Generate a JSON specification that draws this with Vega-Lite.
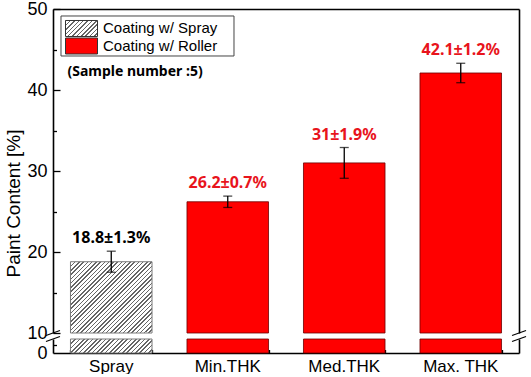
{
  "$schema": "https://vega.github.io/schema/vega-lite/v6.json",
  "padding": {"left": 4, "top": 0, "right": 0, "bottom": 0},
  "data": {"values": [
    {"cat": "Spray", "coating": "Coating w/ Spray", "value": 18.8, "lo": 17.5, "hi": 20.1, "label": "18.8±1.3%"},
    {"cat": "Min.THK", "coating": "Coating w/ Roller", "value": 26.2, "lo": 25.5, "hi": 26.9, "label": "26.2±0.7%"},
    {"cat": "Med.THK", "coating": "Coating w/ Roller", "value": 31, "lo": 29.1, "hi": 32.9, "label": "31±1.9%"},
    {"cat": "Max. THK", "coating": "Coating w/ Roller", "value": 42.1, "lo": 40.9, "hi": 43.3, "label": "42.1±1.2%"}
  ]},
  "spacing": 6,
  "bounds": "flush",
  "vconcat": [
    {
      "width": 466,
      "height": 324,
      "resolve": {"axis": {"x": "independent", "y": "independent"}},
      "layer": [
        {
          "transform": [{"filter": "datum.cat !== 'Spray'"}],
          "mark": {"type": "bar", "color": "#ff0000", "stroke": "#6b0000", "strokeWidth": 0.8},
          "encoding": {
            "x": {"field": "cat", "type": "nominal", "sort": null,
              "scale": {"domain": ["Spray", "Min.THK", "Med.THK", "Max. THK"], "paddingInner": 0.3, "paddingOuter": 0.15},
              "axis": {"orient": "top", "labels": false, "ticks": false, "title": null, "domain": true}},
            "y": {"field": "value", "type": "quantitative",
              "scale": {"domain": [10, 50], "clamp": true, "zero": false, "nice": false},
              "axis": {"orient": "left", "values": [10, 15, 20, 25, 30, 35, 40, 45, 50],
                "labelExpr": "datum.value % 10 === 0 ? datum.label : ''",
                "tickSize": {"condition": {"test": "datum.value % 10 === 0", "value": -7}, "value": -3.5},
                "labelPadding": 13, "labelFontSize": 18, "labelOverlap": false,
                "title": "Paint Content [%]", "titleFontSize": 19, "titleFontWeight": "normal",
                "titleX": -40, "titleY": 194, "titleBaseline": "middle", "titleAngle": -90}}
          }
        },
        {
          "transform": [{"filter": "datum.cat === 'Spray'"}],
          "mark": {"type": "bar", "stroke": "#7a7a7a", "strokeWidth": 1,
            "fill": {"gradient": "linear", "x1": 0, "y1": 0, "x2": 1.062, "y2": 0.929, "stops": [
              {"offset": 0, "color": "#666"}, {"offset": 0.0097, "color": "#666"}, {"offset": 0.0097, "color": "#fff"}, {"offset": 0.0278, "color": "#fff"},
              {"offset": 0.0278, "color": "#666"}, {"offset": 0.0375, "color": "#666"}, {"offset": 0.0375, "color": "#fff"}, {"offset": 0.0556, "color": "#fff"},
              {"offset": 0.0556, "color": "#666"}, {"offset": 0.0653, "color": "#666"}, {"offset": 0.0653, "color": "#fff"}, {"offset": 0.0833, "color": "#fff"},
              {"offset": 0.0833, "color": "#666"}, {"offset": 0.093, "color": "#666"}, {"offset": 0.093, "color": "#fff"}, {"offset": 0.1111, "color": "#fff"},
              {"offset": 0.1111, "color": "#666"}, {"offset": 0.1208, "color": "#666"}, {"offset": 0.1208, "color": "#fff"}, {"offset": 0.1389, "color": "#fff"},
              {"offset": 0.1389, "color": "#666"}, {"offset": 0.1486, "color": "#666"}, {"offset": 0.1486, "color": "#fff"}, {"offset": 0.1667, "color": "#fff"},
              {"offset": 0.1667, "color": "#666"}, {"offset": 0.1764, "color": "#666"}, {"offset": 0.1764, "color": "#fff"}, {"offset": 0.1944, "color": "#fff"},
              {"offset": 0.1944, "color": "#666"}, {"offset": 0.2041, "color": "#666"}, {"offset": 0.2041, "color": "#fff"}, {"offset": 0.2222, "color": "#fff"},
              {"offset": 0.2222, "color": "#666"}, {"offset": 0.2319, "color": "#666"}, {"offset": 0.2319, "color": "#fff"}, {"offset": 0.25, "color": "#fff"},
              {"offset": 0.25, "color": "#666"}, {"offset": 0.2597, "color": "#666"}, {"offset": 0.2597, "color": "#fff"}, {"offset": 0.2778, "color": "#fff"},
              {"offset": 0.2778, "color": "#666"}, {"offset": 0.2875, "color": "#666"}, {"offset": 0.2875, "color": "#fff"}, {"offset": 0.3056, "color": "#fff"},
              {"offset": 0.3056, "color": "#666"}, {"offset": 0.3153, "color": "#666"}, {"offset": 0.3153, "color": "#fff"}, {"offset": 0.3333, "color": "#fff"},
              {"offset": 0.3333, "color": "#666"}, {"offset": 0.343, "color": "#666"}, {"offset": 0.343, "color": "#fff"}, {"offset": 0.3611, "color": "#fff"},
              {"offset": 0.3611, "color": "#666"}, {"offset": 0.3708, "color": "#666"}, {"offset": 0.3708, "color": "#fff"}, {"offset": 0.3889, "color": "#fff"},
              {"offset": 0.3889, "color": "#666"}, {"offset": 0.3986, "color": "#666"}, {"offset": 0.3986, "color": "#fff"}, {"offset": 0.4167, "color": "#fff"},
              {"offset": 0.4167, "color": "#666"}, {"offset": 0.4264, "color": "#666"}, {"offset": 0.4264, "color": "#fff"}, {"offset": 0.4444, "color": "#fff"},
              {"offset": 0.4444, "color": "#666"}, {"offset": 0.4541, "color": "#666"}, {"offset": 0.4541, "color": "#fff"}, {"offset": 0.4722, "color": "#fff"},
              {"offset": 0.4722, "color": "#666"}, {"offset": 0.4819, "color": "#666"}, {"offset": 0.4819, "color": "#fff"}, {"offset": 0.5, "color": "#fff"},
              {"offset": 0.5, "color": "#666"}, {"offset": 0.5097, "color": "#666"}, {"offset": 0.5097, "color": "#fff"}, {"offset": 0.5278, "color": "#fff"},
              {"offset": 0.5278, "color": "#666"}, {"offset": 0.5375, "color": "#666"}, {"offset": 0.5375, "color": "#fff"}, {"offset": 0.5556, "color": "#fff"},
              {"offset": 0.5556, "color": "#666"}, {"offset": 0.5653, "color": "#666"}, {"offset": 0.5653, "color": "#fff"}, {"offset": 0.5833, "color": "#fff"},
              {"offset": 0.5833, "color": "#666"}, {"offset": 0.593, "color": "#666"}, {"offset": 0.593, "color": "#fff"}, {"offset": 0.6111, "color": "#fff"},
              {"offset": 0.6111, "color": "#666"}, {"offset": 0.6208, "color": "#666"}, {"offset": 0.6208, "color": "#fff"}, {"offset": 0.6389, "color": "#fff"},
              {"offset": 0.6389, "color": "#666"}, {"offset": 0.6486, "color": "#666"}, {"offset": 0.6486, "color": "#fff"}, {"offset": 0.6667, "color": "#fff"},
              {"offset": 0.6667, "color": "#666"}, {"offset": 0.6764, "color": "#666"}, {"offset": 0.6764, "color": "#fff"}, {"offset": 0.6944, "color": "#fff"},
              {"offset": 0.6944, "color": "#666"}, {"offset": 0.7041, "color": "#666"}, {"offset": 0.7041, "color": "#fff"}, {"offset": 0.7222, "color": "#fff"},
              {"offset": 0.7222, "color": "#666"}, {"offset": 0.7319, "color": "#666"}, {"offset": 0.7319, "color": "#fff"}, {"offset": 0.75, "color": "#fff"},
              {"offset": 0.75, "color": "#666"}, {"offset": 0.7597, "color": "#666"}, {"offset": 0.7597, "color": "#fff"}, {"offset": 0.7778, "color": "#fff"},
              {"offset": 0.7778, "color": "#666"}, {"offset": 0.7875, "color": "#666"}, {"offset": 0.7875, "color": "#fff"}, {"offset": 0.8056, "color": "#fff"},
              {"offset": 0.8056, "color": "#666"}, {"offset": 0.8153, "color": "#666"}, {"offset": 0.8153, "color": "#fff"}, {"offset": 0.8333, "color": "#fff"},
              {"offset": 0.8333, "color": "#666"}, {"offset": 0.843, "color": "#666"}, {"offset": 0.843, "color": "#fff"}, {"offset": 0.8611, "color": "#fff"},
              {"offset": 0.8611, "color": "#666"}, {"offset": 0.8708, "color": "#666"}, {"offset": 0.8708, "color": "#fff"}, {"offset": 0.8889, "color": "#fff"},
              {"offset": 0.8889, "color": "#666"}, {"offset": 0.8986, "color": "#666"}, {"offset": 0.8986, "color": "#fff"}, {"offset": 0.9167, "color": "#fff"},
              {"offset": 0.9167, "color": "#666"}, {"offset": 0.9264, "color": "#666"}, {"offset": 0.9264, "color": "#fff"}, {"offset": 0.9444, "color": "#fff"},
              {"offset": 0.9444, "color": "#666"}, {"offset": 0.9541, "color": "#666"}, {"offset": 0.9541, "color": "#fff"}, {"offset": 0.9722, "color": "#fff"},
              {"offset": 0.9722, "color": "#666"}, {"offset": 0.9819, "color": "#666"}, {"offset": 0.9819, "color": "#fff"}, {"offset": 1, "color": "#fff"}
            ]}},
          "encoding": {
            "x": {"field": "cat", "type": "nominal", "axis": null},
            "y": {"field": "value", "type": "quantitative",
              "axis": {"orient": "right", "labels": false, "ticks": false, "title": null, "domain": true}}
          }
        },
        {
          "mark": {"type": "errorbar", "ticks": {"size": 9, "thickness": 1.3, "color": "black"}, "rule": {"strokeWidth": 1.3, "color": "black"}},
          "encoding": {
            "x": {"field": "cat", "type": "nominal", "axis": null},
            "y": {"field": "lo", "type": "quantitative", "axis": null},
            "y2": {"field": "hi"}
          }
        },
        {
          "mark": {"type": "text", "font": "Noto Sans", "fontWeight": "bold", "fontSize": 16, "baseline": "alphabetic", "dy": -8},
          "encoding": {
            "x": {"field": "cat", "type": "nominal", "axis": null},
            "y": {"field": "hi", "type": "quantitative", "axis": null},
            "text": {"field": "label"},
            "color": {"condition": {"test": "datum.cat === 'Spray'", "value": "black"}, "value": "#e8141c"}
          }
        },
        {
          "data": {"values": [{"t": "(Sample number :5)"}]},
          "mark": {"type": "text", "align": "left", "baseline": "middle", "font": "Noto Sans", "fontWeight": "bold", "fontSize": 14, "dx": -3, "color": "black"},
          "encoding": {
            "x": {"datum": "Spray", "bandPosition": 0, "axis": null},
            "y": {"datum": 42.2, "axis": null},
            "text": {"field": "t"}
          }
        },
        {
          "data": {"values": [{"k": 1}]},
          "mark": {"type": "point", "shape": "M-1,-0.2312H1V0.2312H-1Z", "size": 29929, "filled": true, "fill": "#ffffff", "stroke": "#444444", "strokeWidth": 1, "opacity": 1},
          "encoding": {
            "x": {"datum": "Spray", "bandPosition": 0.9445, "axis": null},
            "y": {"datum": 46.667, "axis": null}
          }
        },
        {
          "data": {"values": [{"k": 1}]},
          "mark": {"type": "point", "shape": "M-1,-0.5H1V0.5H-1Z", "size": 1024, "filled": true, "stroke": "#333333", "strokeWidth": 1, "opacity": 1,
            "fill": {"gradient": "linear", "x1": 0, "y1": 0, "x2": 1.2, "y2": 0.6, "stops": [
              {"offset": 0, "color": "#666"}, {"offset": 0.0318, "color": "#666"}, {"offset": 0.0318, "color": "#fff"}, {"offset": 0.0909, "color": "#fff"},
              {"offset": 0.0909, "color": "#666"}, {"offset": 0.1227, "color": "#666"}, {"offset": 0.1227, "color": "#fff"}, {"offset": 0.1818, "color": "#fff"},
              {"offset": 0.1818, "color": "#666"}, {"offset": 0.2136, "color": "#666"}, {"offset": 0.2136, "color": "#fff"}, {"offset": 0.2727, "color": "#fff"},
              {"offset": 0.2727, "color": "#666"}, {"offset": 0.3045, "color": "#666"}, {"offset": 0.3045, "color": "#fff"}, {"offset": 0.3636, "color": "#fff"},
              {"offset": 0.3636, "color": "#666"}, {"offset": 0.3954, "color": "#666"}, {"offset": 0.3954, "color": "#fff"}, {"offset": 0.4545, "color": "#fff"},
              {"offset": 0.4545, "color": "#666"}, {"offset": 0.4863, "color": "#666"}, {"offset": 0.4863, "color": "#fff"}, {"offset": 0.5455, "color": "#fff"},
              {"offset": 0.5455, "color": "#666"}, {"offset": 0.5773, "color": "#666"}, {"offset": 0.5773, "color": "#fff"}, {"offset": 0.6364, "color": "#fff"},
              {"offset": 0.6364, "color": "#666"}, {"offset": 0.6682, "color": "#666"}, {"offset": 0.6682, "color": "#fff"}, {"offset": 0.7273, "color": "#fff"},
              {"offset": 0.7273, "color": "#666"}, {"offset": 0.7591, "color": "#666"}, {"offset": 0.7591, "color": "#fff"}, {"offset": 0.8182, "color": "#fff"},
              {"offset": 0.8182, "color": "#666"}, {"offset": 0.85, "color": "#666"}, {"offset": 0.85, "color": "#fff"}, {"offset": 0.9091, "color": "#fff"},
              {"offset": 0.9091, "color": "#666"}, {"offset": 0.9409, "color": "#666"}, {"offset": 0.9409, "color": "#fff"}, {"offset": 1, "color": "#fff"}
            ]}},
          "encoding": {
            "x": {"datum": "Spray", "bandPosition": 0.1352, "axis": null},
            "y": {"datum": 47.593, "axis": null}
          }
        },
        {
          "data": {"values": [{"k": 1}]},
          "mark": {"type": "point", "shape": "M-1,-0.5H1V0.5H-1Z", "size": 1024, "filled": true, "fill": "#ff0000", "stroke": "#333333", "strokeWidth": 1, "opacity": 1},
          "encoding": {
            "x": {"datum": "Spray", "bandPosition": 0.1352, "axis": null},
            "y": {"datum": 45.432, "axis": null}
          }
        },
        {
          "data": {"values": [{"t": "Coating w/ Spray"}]},
          "mark": {"type": "text", "align": "left", "baseline": "middle", "font": "Liberation Sans", "fontSize": 15, "color": "black"},
          "encoding": {
            "x": {"datum": "Spray", "bandPosition": 0.3988, "axis": null},
            "y": {"datum": 47.593, "axis": null},
            "text": {"field": "t"}
          }
        },
        {
          "data": {"values": [{"t": "Coating w/ Roller"}]},
          "mark": {"type": "text", "align": "left", "baseline": "middle", "font": "Liberation Sans", "fontSize": 15, "color": "black"},
          "encoding": {
            "x": {"datum": "Spray", "bandPosition": 0.3988, "axis": null},
            "y": {"datum": 45.432, "axis": null},
            "text": {"field": "t"}
          }
        },
        {
          "data": {"values": [{"k": 1}]},
          "mark": {"type": "point", "shape": "M-3.5,0.36L-1.5,-0.36", "size": 196, "filled": false, "color": "black", "strokeWidth": 1.2, "opacity": 1},
          "encoding": {
            "x": {"datum": "Spray", "bandPosition": 0, "axis": null},
            "y": {"datum": 10, "axis": null}
          }
        },
        {
          "data": {"values": [{"k": 1}]},
          "mark": {"type": "point", "shape": "M1.5,0.36L3.5,-0.36", "size": 196, "filled": false, "color": "black", "strokeWidth": 1.2, "opacity": 1},
          "encoding": {
            "x": {"datum": "Max. THK", "bandPosition": 1, "axis": null},
            "y": {"datum": 10, "axis": null}
          }
        }
      ]
    },
    {
      "width": 466,
      "height": 14,
      "resolve": {"axis": {"x": "independent", "y": "independent"}},
      "layer": [
        {
          "transform": [{"filter": "datum.cat !== 'Spray'"}],
          "mark": {"type": "bar", "color": "#ff0000", "stroke": "#6b0000", "strokeWidth": 0.8},
          "encoding": {
            "x": {"field": "cat", "type": "nominal", "sort": null,
              "scale": {"domain": ["Spray", "Min.THK", "Med.THK", "Max. THK"], "paddingInner": 0.3, "paddingOuter": 0.15},
              "axis": {"orient": "bottom", "title": null, "labelAngle": 0, "labelFontSize": 17, "tickSize": -6, "labelPadding": 11, "domain": true}},
            "y": {"field": "value", "type": "quantitative",
              "scale": {"domain": [0, 1.75], "clamp": true, "zero": false, "nice": false},
              "axis": {"orient": "left", "values": [0, 1], "labelExpr": "datum.value === 0 ? '0' : ''",
                "tickSize": {"condition": {"test": "datum.value === 0", "value": 0}, "value": -3.5},
                "labelPadding": 6, "labelFontSize": 18, "title": null, "labelOverlap": false}}
          }
        },
        {
          "transform": [{"filter": "datum.cat === 'Spray'"}],
          "mark": {"type": "bar", "stroke": "#7a7a7a", "strokeWidth": 1,
            "fill": {"gradient": "linear", "x1": 0, "y1": 0, "x2": 1.138, "y2": 0.195, "stops": [
              {"offset": 0, "color": "#666"}, {"offset": 0.0159, "color": "#666"}, {"offset": 0.0159, "color": "#fff"}, {"offset": 0.0455, "color": "#fff"},
              {"offset": 0.0455, "color": "#666"}, {"offset": 0.0614, "color": "#666"}, {"offset": 0.0614, "color": "#fff"}, {"offset": 0.0909, "color": "#fff"},
              {"offset": 0.0909, "color": "#666"}, {"offset": 0.1068, "color": "#666"}, {"offset": 0.1068, "color": "#fff"}, {"offset": 0.1364, "color": "#fff"},
              {"offset": 0.1364, "color": "#666"}, {"offset": 0.1523, "color": "#666"}, {"offset": 0.1523, "color": "#fff"}, {"offset": 0.1818, "color": "#fff"},
              {"offset": 0.1818, "color": "#666"}, {"offset": 0.1977, "color": "#666"}, {"offset": 0.1977, "color": "#fff"}, {"offset": 0.2273, "color": "#fff"},
              {"offset": 0.2273, "color": "#666"}, {"offset": 0.2432, "color": "#666"}, {"offset": 0.2432, "color": "#fff"}, {"offset": 0.2727, "color": "#fff"},
              {"offset": 0.2727, "color": "#666"}, {"offset": 0.2886, "color": "#666"}, {"offset": 0.2886, "color": "#fff"}, {"offset": 0.3182, "color": "#fff"},
              {"offset": 0.3182, "color": "#666"}, {"offset": 0.3341, "color": "#666"}, {"offset": 0.3341, "color": "#fff"}, {"offset": 0.3636, "color": "#fff"},
              {"offset": 0.3636, "color": "#666"}, {"offset": 0.3795, "color": "#666"}, {"offset": 0.3795, "color": "#fff"}, {"offset": 0.4091, "color": "#fff"},
              {"offset": 0.4091, "color": "#666"}, {"offset": 0.425, "color": "#666"}, {"offset": 0.425, "color": "#fff"}, {"offset": 0.4545, "color": "#fff"},
              {"offset": 0.4545, "color": "#666"}, {"offset": 0.4704, "color": "#666"}, {"offset": 0.4704, "color": "#fff"}, {"offset": 0.5, "color": "#fff"},
              {"offset": 0.5, "color": "#666"}, {"offset": 0.5159, "color": "#666"}, {"offset": 0.5159, "color": "#fff"}, {"offset": 0.5455, "color": "#fff"},
              {"offset": 0.5455, "color": "#666"}, {"offset": 0.5614, "color": "#666"}, {"offset": 0.5614, "color": "#fff"}, {"offset": 0.5909, "color": "#fff"},
              {"offset": 0.5909, "color": "#666"}, {"offset": 0.6068, "color": "#666"}, {"offset": 0.6068, "color": "#fff"}, {"offset": 0.6364, "color": "#fff"},
              {"offset": 0.6364, "color": "#666"}, {"offset": 0.6523, "color": "#666"}, {"offset": 0.6523, "color": "#fff"}, {"offset": 0.6818, "color": "#fff"},
              {"offset": 0.6818, "color": "#666"}, {"offset": 0.6977, "color": "#666"}, {"offset": 0.6977, "color": "#fff"}, {"offset": 0.7273, "color": "#fff"},
              {"offset": 0.7273, "color": "#666"}, {"offset": 0.7432, "color": "#666"}, {"offset": 0.7432, "color": "#fff"}, {"offset": 0.7727, "color": "#fff"},
              {"offset": 0.7727, "color": "#666"}, {"offset": 0.7886, "color": "#666"}, {"offset": 0.7886, "color": "#fff"}, {"offset": 0.8182, "color": "#fff"},
              {"offset": 0.8182, "color": "#666"}, {"offset": 0.8341, "color": "#666"}, {"offset": 0.8341, "color": "#fff"}, {"offset": 0.8636, "color": "#fff"},
              {"offset": 0.8636, "color": "#666"}, {"offset": 0.8795, "color": "#666"}, {"offset": 0.8795, "color": "#fff"}, {"offset": 0.9091, "color": "#fff"},
              {"offset": 0.9091, "color": "#666"}, {"offset": 0.925, "color": "#666"}, {"offset": 0.925, "color": "#fff"}, {"offset": 0.9545, "color": "#fff"},
              {"offset": 0.9545, "color": "#666"}, {"offset": 0.9704, "color": "#666"}, {"offset": 0.9704, "color": "#fff"}, {"offset": 1, "color": "#fff"}
            ]}},
          "encoding": {
            "x": {"field": "cat", "type": "nominal",
              "axis": {"orient": "bottom", "labels": false, "domain": false, "title": null, "tickBand": "extent", "tickSize": -3.5}},
            "y": {"field": "value", "type": "quantitative",
              "axis": {"orient": "right", "labels": false, "ticks": false, "title": null, "domain": true}}
          }
        },
        {
          "data": {"values": [{"k": 1}]},
          "mark": {"type": "point", "shape": "M-3.5,0.36L-1.5,-0.36", "size": 196, "filled": false, "color": "black", "strokeWidth": 1.2, "opacity": 1},
          "encoding": {
            "x": {"datum": "Spray", "bandPosition": 0, "axis": null},
            "y": {"datum": 1.75, "axis": null}
          }
        },
        {
          "data": {"values": [{"k": 1}]},
          "mark": {"type": "point", "shape": "M1.5,0.36L3.5,-0.36", "size": 196, "filled": false, "color": "black", "strokeWidth": 1.2, "opacity": 1},
          "encoding": {
            "x": {"datum": "Max. THK", "bandPosition": 1, "axis": null},
            "y": {"datum": 1.75, "axis": null}
          }
        }
      ]
    }
  ],
  "config": {
    "font": "Liberation Sans",
    "view": {"stroke": null},
    "axis": {"domainColor": "black", "domainWidth": 1.6, "tickColor": "black", "tickWidth": 1.3, "grid": false,
      "labelFont": "Liberation Sans", "titleFont": "Liberation Sans", "labelColor": "black", "titleColor": "black"}
  }
}
